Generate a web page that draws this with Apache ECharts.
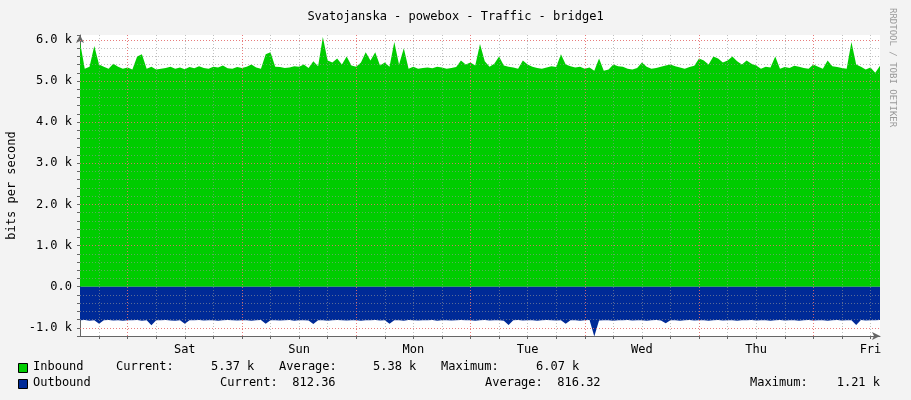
<!DOCTYPE html>
<html><head><meta charset="utf-8">
<script src="https://cdn.jsdelivr.net/npm/echarts@6/dist/echarts.min.js"></script>
<style>html,body{margin:0;padding:0;background:#f3f3f3}#c{width:911px;height:400px}</style>
</head><body><div id="c"></div>
<script>
const startHour = -10; // hours relative to Saturday 00:00
const dayLabels = ['Sat','Sun','Mon','Tue','Wed','Thu','Fri'];
const yTickLabels = ['-1.0 k','0.0','1.0 k','2.0 k','3.0 k','4.0 k','5.0 k','6.0 k'];
const inbound = [
5950,5300,5350,5850,5400,5350,5300,5420,5350,5300,
5330,5280,5600,5650,5300,5350,5280,5300,5320,5350,5300,5330,5290,5340,5310,5360,5320,5300,5350,5330,5380,5310,5300,5340,
5320,5350,5400,5330,5300,5650,5700,5350,5340,5320,5330,5360,5350,5400,5320,5480,5360,6070,5500,5450,5550,5400,5600,5380,
5350,5450,5700,5500,5700,5380,5450,5350,5950,5400,5800,5300,5350,5300,5320,5330,5310,5350,5330,5300,5320,5340,5500,5400,
5450,5380,5900,5480,5350,5420,5600,5380,5350,5330,5300,5500,5400,5350,5320,5300,5330,5360,5340,5650,5400,5360,5330,5350,
5300,5330,5250,5550,5250,5280,5400,5360,5350,5300,5280,5320,5450,5350,5300,5320,5350,5380,5400,5360,5330,5300,5340,5370,
5550,5500,5400,5600,5550,5450,5500,5600,5480,5400,5500,5420,5380,5300,5350,5330,5600,5300,5340,5320,5370,5350,5320,5300,
5400,5350,5300,5500,5360,5340,5320,5300,5950,5400,5350,5280,5330,5200,5370];
const outbound = [
-820,-810,-830,-815,-900,-820,-810,-825,-815,-830,
-820,-815,-810,-830,-820,-940,-815,-820,-810,-825,-830,-815,-900,-820,-815,-810,-825,-820,-815,-830,-820,-810,-815,-825,
-820,-815,-830,-820,-810,-900,-820,-815,-825,-820,-810,-830,-815,-820,-825,-910,-820,-815,-830,-820,-810,-820,-825,-815,
-820,-830,-815,-820,-810,-825,-820,-900,-815,-820,-830,-810,-820,-825,-815,-820,-810,-830,-820,-815,-825,-820,-810,-820,
-815,-830,-820,-810,-825,-820,-815,-830,-930,-820,-810,-825,-815,-820,-830,-820,-810,-815,-825,-820,-900,-820,-815,-830,
-820,-810,-1210,-825,-815,-820,-830,-820,-815,-810,-825,-820,-815,-830,-820,-810,-825,-890,-820,-815,-830,-820,-810,-825,
-815,-820,-830,-820,-810,-825,-815,-820,-830,-820,-815,-810,-825,-820,-815,-830,-820,-810,-825,-820,-815,-830,-820,-810,
-825,-820,-815,-830,-820,-810,-825,-815,-820,-930,-810,-825,-820,-815,-812];
const inSeries = inbound.map((v,i)=>[startHour+i, v]);
const outSeries = outbound.map((v,i)=>[startHour+i, v]);
const xmin = startHour, xmax = startHour + 168;
const ymin = -1200, ymax = 6120;
const labelHours = dayLabels.map((d,i)=>12+24*i);
const minorX = [], majorX = [];
for (let h=-6; h<=xmax; h+=6) { if (h<=xmin) continue; (h%24===0?majorX:minorX).push(h); }
const minorY = [], majorY = [];
for (let v=-1000; v<=6000; v+=200) { (v%1000===0?majorY:minorY).push(v); }
const mono = 'DejaVu Sans Mono';
const ml = (arr, key, color) => arr.map(v=>({[key]: v, lineStyle:{color, type:[1,2], width:1}}));
const chart = echarts.init(document.getElementById('c'));
const T = (x,y,t,extra) => Object.assign({type:'text', left:x, top:y, style:{text:t, font:'12px '+mono, fill:'#000'}}, extra||{});
chart.setOption({
  animation:false, backgroundColor:'#f3f3f3',
  title:{text:'Svatojanska - powebox - Traffic - bridge1', left:'center', top:6, textStyle:{fontFamily:mono, fontSize:12, fontWeight:'normal', color:'#000'}},
  grid:{left:80, right:31, top:35, bottom:64, show:true, backgroundColor:'#fff', borderWidth:0, outerBoundsMode:'none', containLabel:false},
  xAxis:{type:'value', min:xmin, max:xmax,
    axisLine:{onZero:false, lineStyle:{color:'#666'}, symbol:['none','arrow'], symbolSize:[6,8]},
    axisTick:{customValues: majorX.concat(minorX), length:3, lineStyle:{color:'#666'}},
    axisLabel:{customValues: labelHours, formatter:v=>dayLabels[(v-12)/24], fontFamily:mono, fontSize:12, color:'#000', margin:8},
    splitLine:{show:false}},
  yAxis:{type:'value', min:ymin, max:ymax, interval:200,
    axisLine:{show:true, onZero:false, lineStyle:{color:'#666'}, symbol:['none','arrow'], symbolSize:[6,8]},
    axisTick:{show:true, length:3, inside:false, lineStyle:{color:'#666'}},
    axisLabel:{customValues: majorY, formatter:v=>yTickLabels[(v+1000)/1000], fontFamily:mono, fontSize:12, color:'#000', margin:8},
    name:'bits per second', nameLocation:'middle', nameGap:62, nameRotate:90,
    nameTextStyle:{fontFamily:mono, fontSize:12, color:'#000'},
    splitLine:{show:false}},
  series:[
    {type:'line', data:inSeries, showSymbol:false, lineStyle:{width:0}, areaStyle:{color:'#00CC00', opacity:1}, z:2},
    {type:'line', data:outSeries, showSymbol:false, lineStyle:{width:0}, areaStyle:{color:'#002A97', opacity:1}, z:2},
    {type:'line', data:[], z:5, markLine:{silent:true, symbol:'none', label:{show:false}, animation:false,
      data: ml(minorX,'xAxis','rgba(150,150,150,0.6)').concat(ml(minorY,'yAxis','rgba(150,150,150,0.6)'))
        .concat(ml(majorX,'xAxis','rgba(230,110,110,0.9)')).concat(ml(majorY.filter(v=>v!==0),'yAxis','rgba(230,110,110,0.9)'))}}
  ],
  graphic:[
    {type:'rect', left:18, top:363, shape:{width:9, height:9}, style:{fill:'#00CC00', stroke:'#000', lineWidth:1}},
    {type:'rect', left:18, top:379, shape:{width:9, height:9}, style:{fill:'#002A97', stroke:'#000', lineWidth:1}},
    T(33,361,'Inbound'), T(116,361,'Current:'), T(211,361,'5.37 k'), T(279,361,'Average:'), T(373,361,'5.38 k'), T(441,361,'Maximum:'), T(536,361,'6.07 k'),
    T(33,377,'Outbound'), T(220,377,'Current:  812.36'), T(485,377,'Average:  816.32'), T(750,377,'Maximum:    1.21 k'),
    {type:'text', x:897, y:8, rotation:-Math.PI/2, style:{text:'RRDTOOL / TOBI OETIKER', font:'9px '+mono, fill:'#999'}}
  ]
});
</script></body></html>
